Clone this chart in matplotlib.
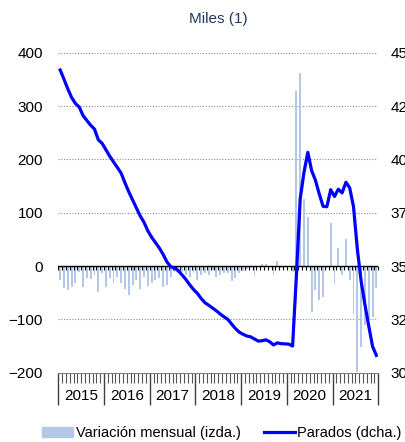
import numpy as np
import matplotlib.pyplot as plt
from matplotlib.patches import Patch
from matplotlib.lines import Line2D

plt.rcParams['font.family'] = ['Liberation Sans', 'DejaVu Sans']

# datos mensuales ene-2015 .. dic-2021 (miles)
years = ['2015', '2016', '2017', '2018', '2019', '2020', '2021']

variacion = [
    -27, -42, -45, -39, -32, -11, -40, -23, -25, -16, -48, -14,   # 2015
    -39, -23, -31, -20, -32, -44, -54, -35, -26, -43, -20, -37,   # 2016
    -31, -26, -23, -39, -36, -20, -11, -14, -11, -17, -20, -13,   # 2017
    -26, -17, -14, -16, -8, -20, -17, -14, -13, -29, -23, -13,    # 2018
    -9, -5, -3, -19, -2, 4, 3, -2, -16, 10, -3, -2,               # 2019
    -2, -12, 328, 361, 125, 91, -86, -45, -64, -58, -3, 80,       # 2020
    -34, 34, -17, 50, -27, -89, -198, -151, -110, -100, -95, -42, # 2021
]

parados = [
    4419, 4375, 4330, 4290, 4262, 4245, 4205, 4182, 4160, 4142, 4092, 4075,
    4045, 4015, 3988, 3962, 3935, 3890, 3848, 3810, 3772, 3735, 3705, 3665,
    3635, 3610, 3585, 3555, 3520, 3497, 3490, 3478, 3458, 3437, 3412, 3390,
    3372, 3348, 3328, 3316, 3303, 3290, 3275, 3262, 3250, 3228, 3207, 3190,
    3180, 3172, 3168, 3158, 3148, 3150, 3154, 3145, 3130, 3140, 3136, 3135,
    3134, 3125, 3455, 3815, 3940, 4033, 3947, 3902, 3838, 3780, 3778, 3858,
    3826, 3860, 3843, 3893, 3866, 3777, 3579, 3428, 3318, 3218, 3123, 3081,
]

bar_color = '#B4C7E7'
line_color = '#0000FF'

fig = plt.figure(figsize=(4.06, 4.42), dpi=100)
ax = fig.add_axes([58.3 / 406, 1 - 372.7 / 442, 320 / 406, 320 / 442])

x = np.arange(len(variacion))
ax.bar(x, variacion, width=0.5, color=bar_color, zorder=2)
ax.set_xlim(-0.5, len(x) - 0.5)
ax.set_ylim(-200, 400)
ax.set_yticks(range(-200, 401, 100))

# rejilla punteada
for v in range(-100, 401, 100):
    if v != 0:
        ax.axhline(v, color='#8c8c8c', lw=0.8, ls=(0, (1, 1.5)), zorder=1)

# eje cero con marcas mensuales
bounds = np.arange(-0.5, len(x), 1)
ax.axhline(0, color='black', lw=1, zorder=3)
ax.plot(bounds, np.zeros(len(bounds)), ls='none', marker=3, ms=3,
        mec='black', mew=0.8, zorder=3)

for s in ['left', 'right', 'top']:
    ax.spines[s].set_visible(False)
ax.spines['bottom'].set_color('#808080')
ax.spines['bottom'].set_linewidth(0.8)

ax.tick_params(axis='y', length=0, pad=11, labelsize=11)
ax.set_xticks(np.arange(-0.5, len(x), 12))
ax.set_xticklabels([])
ax.set_xticks(bounds, minor=True)
ax.tick_params(axis='x', which='major', length=23, width=1, color='#404040')
ax.tick_params(axis='x', which='minor', length=7, width=0.8, color='#555555')

for k, yr in enumerate(years):
    ax.text(12 * k + 5.5, -0.073, yr, transform=ax.get_xaxis_transform(),
            ha='center', va='center', fontsize=11)

ax2 = ax.twinx()
ax2.plot(x, parados, color=line_color, lw=2.3, solid_joinstyle='round', zorder=4)
ax2.set_ylim(3000, 4500)
ax2.set_yticks(range(3000, 4501, 250))
ax2.tick_params(axis='y', length=0, pad=9, labelsize=11)
for s in ['left', 'right', 'top', 'bottom']:
    ax2.spines[s].set_visible(False)

fig.text(218.3 / 406, 1 - 19 / 442, 'Miles (1)', color='#1F3864',
         fontsize=11, ha='center', va='center')

handles = [Patch(color=bar_color), Line2D([], [], color=line_color, lw=2.3)]
fig.legend(handles, ['Variación mensual (izda.)', 'Parados (dcha.)'],
           loc='center', bbox_to_anchor=(222 / 406, 1 - 433 / 442), ncol=2,
           frameon=False, fontsize=10.5, handlelength=2.1, handleheight=0.7,
           handletextpad=0.2, columnspacing=1.6)

fig.savefig('out.png', dpi=100)
